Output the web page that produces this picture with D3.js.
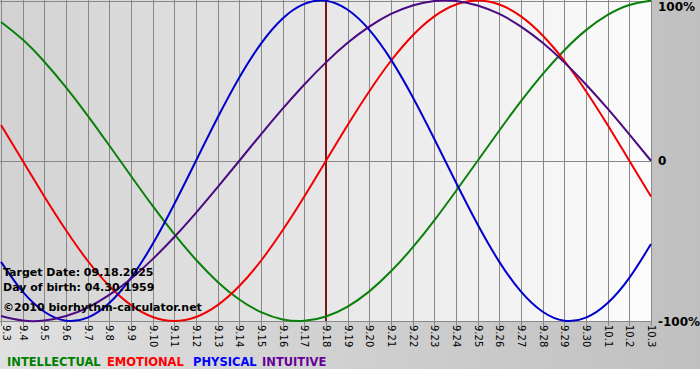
<!DOCTYPE html>
<html><head><meta charset="utf-8">
<script src="https://cdn.jsdelivr.net/npm/d3@7"></script>
<style>body{margin:0;background:#fff;}svg{display:block;}</style>
</head><body>
<script>
const dayLabels = ["9.3","9.4","9.5","9.6","9.7","9.8","9.9","9.10","9.11","9.12","9.13","9.14","9.15","9.16","9.17","9.18","9.19","9.20","9.21","9.22","9.23","9.24","9.25","9.26","9.27","9.28","9.29","9.30","10.1","10.2","10.3"];
const intellectual = [0.866,0.756,0.618,0.458,0.282,0.095,-0.095,-0.282,-0.458,-0.618,-0.756,-0.866,-0.945,-0.990,-0.999,-0.972,-0.910,-0.815,-0.690,-0.541,-0.372,-0.189,0,0.189,0.372,0.541,0.690,0.815,0.910,0.972,0.999];
const emotional = [0.223,0,-0.223,-0.434,-0.624,-0.782,-0.901,-0.975,-1,-0.975,-0.901,-0.782,-0.624,-0.434,-0.223,0,0.223,0.434,0.624,0.782,0.901,0.975,1,0.975,0.901,0.782,0.624,0.434,0.223,0,-0.223];
const physical = [-0.631,-0.817,-0.942,-0.998,-0.979,-0.888,-0.731,-0.520,-0.270,0,0.270,0.520,0.731,0.888,0.979,0.998,0.942,0.817,0.631,0.398,0.136,-0.136,-0.398,-0.631,-0.817,-0.942,-0.998,-0.979,-0.888,-0.731,-0.520];
const intuitive = [-0.969,-0.997,-0.997,-0.969,-0.916,-0.837,-0.736,-0.614,-0.476,-0.325,-0.165,0,0.165,0.325,0.476,0.614,0.736,0.837,0.916,0.969,0.997,0.997,0.969,0.916,0.837,0.736,0.614,0.476,0.325,0.165,0];
const seriesNames = ["INTELLECTUAL","EMOTIONAL","PHYSICAL","INTUITIVE"];
const yTickValues = [1,0,-1];
const yTickLabels = ["100%","0","-100%"];
const targetIndex = 15;
const infoLines = ["Target Date: 09.18.2025","Day of birth: 04.30.1959","\u00A92010 biorhythm-calculator.net"];

const W=700,H=380;
const svg=d3.select("body").append("svg").attr("width",W).attr("height",H);
const defs=svg.append("defs");
const bg=defs.append("linearGradient").attr("id","bg").attr("x1","0").attr("x2","1").attr("y1","0").attr("y2","0");
bg.append("stop").attr("offset","0").attr("stop-color","#e0e0e0");
bg.append("stop").attr("offset","1").attr("stop-color","#c0c0c0");
const pg=defs.append("linearGradient").attr("id","pg").attr("x1","0").attr("x2","1").attr("y1","0").attr("y2","0");
pg.append("stop").attr("offset","0").attr("stop-color","#d2d2d2");
pg.append("stop").attr("offset","1").attr("stop-color","#fcfcfc");

svg.append("rect").attr("x",0).attr("y",0).attr("width",W).attr("height",369).attr("fill","url(#bg)");

const x=d3.scaleLinear().domain([0,dayLabels.length-1]).range([1,651]);
const y=d3.scaleLinear().domain([-1,1]).range([321,0.5]);

svg.append("rect").attr("x",0).attr("y",0).attr("width",651).attr("height",321).attr("fill","url(#pg)");

const g=svg.append("g");
g.selectAll("line.v").data(dayLabels).enter().append("line")
 .attr("x1",(d,i)=>Math.round(x(i))+0.5).attr("x2",(d,i)=>Math.round(x(i))+0.5)
 .attr("y1",0).attr("y2",326).attr("stroke","#888").attr("stroke-width",1);
g.selectAll("line.h").data(yTickValues).enter().append("line")
 .attr("x1",0).attr("x2",651).attr("y1",d=>Math.round(y(d))+0.5).attr("y2",d=>Math.round(y(d))+0.5)
 .attr("stroke","#888");

g.selectAll("text.t").data(dayLabels).enter().append("text")
 .attr("transform",(d,i)=>`translate(${Math.max(3,Math.round(x(i))-3)},325) rotate(90)`)
 .attr("font-family","Verdana, DejaVu Sans, sans-serif").attr("font-size","10px").attr("fill","#000")
 .text(d=>d);

const yLabelY=[11,165,326];
svg.selectAll("text.y").data(yTickValues).enter().append("text")
 .attr("x",658).attr("y",(d,i)=>yLabelY[i])
 .attr("font-family","DejaVu Sans, Verdana, sans-serif").attr("font-weight","bold").attr("font-size","12px").attr("fill","#000")
 .text((d,i)=>yTickLabels[i]);

svg.append("line").attr("x1",x(targetIndex)).attr("x2",x(targetIndex)).attr("y1",0).attr("y2",321)
 .attr("stroke","#7a1515").attr("stroke-width",2);

const colors=["#0a800a","#f00000","#0000cc","#4b0a82"];
const data=[intellectual,emotional,physical,intuitive];
const line=d3.line().x((d,i)=>x(i)).y(d=>y(d)).curve(d3.curveNatural);
svg.selectAll("path.s").data(data).enter().append("path")
 .attr("d",line).attr("fill","none").attr("stroke",(d,i)=>colors[i]).attr("stroke-width",2);

svg.selectAll("text.info").data(infoLines).enter().append("text")
 .attr("x",3).attr("y",(d,i)=>[276,291,311][i])
 .attr("font-family","DejaVu Sans, Verdana, sans-serif").attr("font-weight","bold").attr("font-size","11px").attr("fill","#000")
 .text(d=>d);

const legendColors=["#008000","#ff0000","#0000ff","#660099"];
const legendX=[7,107,193,262];
svg.selectAll("text.leg").data(seriesNames).enter().append("text")
 .attr("x",(d,i)=>legendX[i]).attr("y",366)
 .attr("font-family","DejaVu Sans, Verdana, sans-serif").attr("font-weight","bold").attr("font-size","11.5px")
 .attr("fill",(d,i)=>legendColors[i]).text(d=>d);
</script>
</body></html>
